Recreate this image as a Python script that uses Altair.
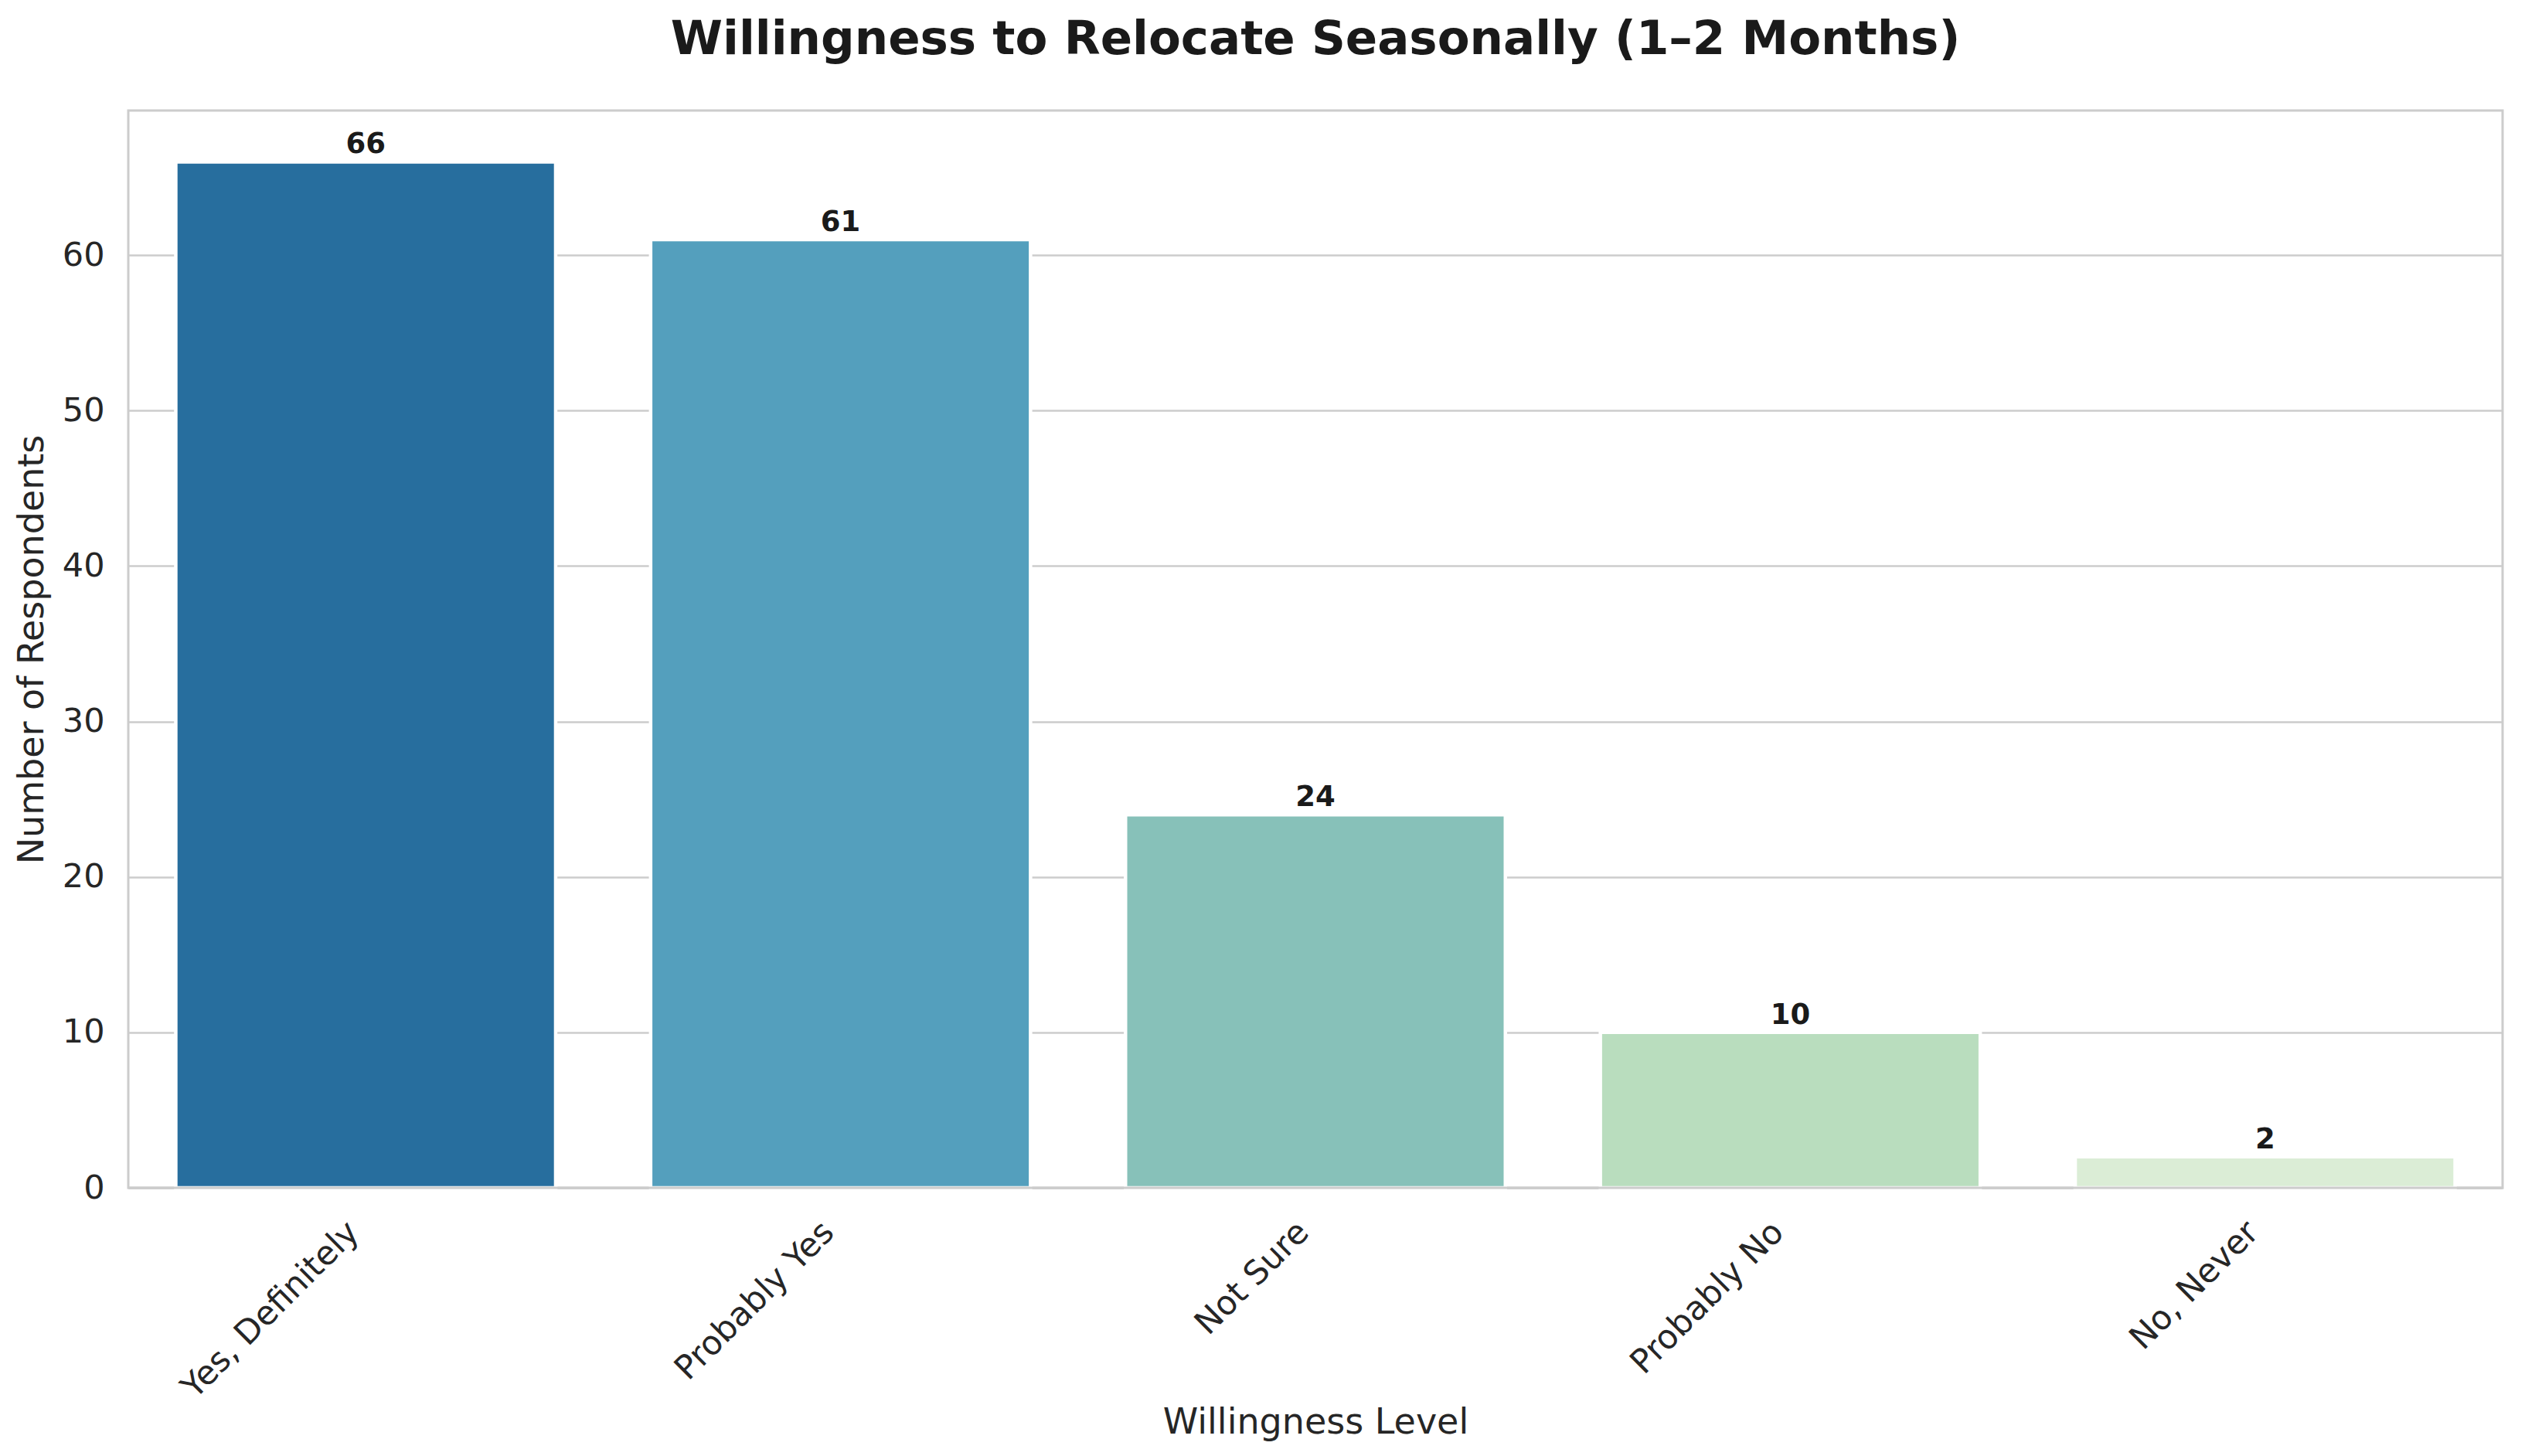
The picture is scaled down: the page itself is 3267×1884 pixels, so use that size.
import altair as alt
import pandas as pd

categories = ["Yes, Definitely", "Probably Yes", "Not Sure", "Probably No", "No, Never"]
counts = [66, 61, 24, 10, 2]
colors = ["#276e9e", "#549fbd", "#87c1b9", "#b9ddbe", "#dbedd6"]
y_ticks = [0, 10, 20, 30, 40, 50, 60]

df = pd.DataFrame({"level": categories, "count": counts})

FONT = "DejaVu Sans"

x_enc = alt.X(
    "level:N",
    sort=categories,
    scale=alt.Scale(paddingInner=0.2, paddingOuter=0.1),
    axis=alt.Axis(
        title="Willingness Level",
        titleFontSize=46,
        titleFont=FONT,
        titleFontWeight="normal",
        titleColor="#262626",
        titleY=317,
        titleBaseline="alphabetic",
        labelAngle=-45,
        labelAlign="right",
        labelBaseline="bottom",
        labelPadding=66,
        labelFontSize=43,
        labelFont=FONT,
        labelColor="#262626",
        labelLimit=0,
        labelOverlap=False,
        ticks=False,
        tickSize=0,
        domain=False,
        grid=False,
    ),
)

y_enc = alt.Y(
    "count:Q",
    scale=alt.Scale(domain=[0, 69.3], nice=False, zero=True),
    axis=alt.Axis(
        title="Number of Respondents",
        titleFontSize=46,
        titleFont=FONT,
        titleFontWeight="normal",
        titleColor="#262626",
        titleX=-111,
        titleBaseline="alphabetic",
        titleAngle=-90,
        values=y_ticks,
        labelFontSize=43,
        labelFont=FONT,
        labelColor="#262626",
        labelPadding=31,
        ticks=False,
        tickSize=0,
        domain=False,
        grid=True,
        gridColor="#cccccc",
        gridWidth=2.5,
    ),
)

base = alt.Chart(df)

bars = base.mark_bar(stroke="white", strokeWidth=4.5).encode(
    x=x_enc,
    y=y_enc,
    color=alt.Color(
        "level:N",
        scale=alt.Scale(domain=categories, range=colors),
        legend=None,
    ),
)

labels = base.mark_text(
    dy=-11,
    baseline="alphabetic",
    align="center",
    font=FONT,
    fontSize=37,
    fontWeight="bold",
    color="#1a1a1a",
).encode(
    x=alt.X("level:N", sort=categories),
    y=alt.Y("count:Q"),
    text=alt.Text("count:Q"),
)

baseline_rule = alt.Chart(pd.DataFrame({"z": [0]})).mark_rule(
    color="#cccccc", strokeWidth=3
).encode(y=alt.Y("z:Q"))

chart = (
    alt.layer(bars, labels, baseline_rule)
    .properties(
        width=3072,
        height=1394,
        background="white",
        title=alt.TitleParams(
            text="Willingness to Relocate Seasonally (1–2 Months)",
            font=FONT,
            fontSize=61,
            fontWeight="bold",
            color="#1a1a1a",
            anchor="middle",
            frame="group",
            baseline="alphabetic",
            offset=12,
        ),
        autosize=alt.AutoSizeParams(type="none"),
        padding={"left": 158, "top": 135, "right": 15, "bottom": 330},
    )
    .configure_view(stroke="#cccccc", strokeWidth=3)
)

chart.save("out.html", embed_options={"renderer": "svg", "actions": False})
